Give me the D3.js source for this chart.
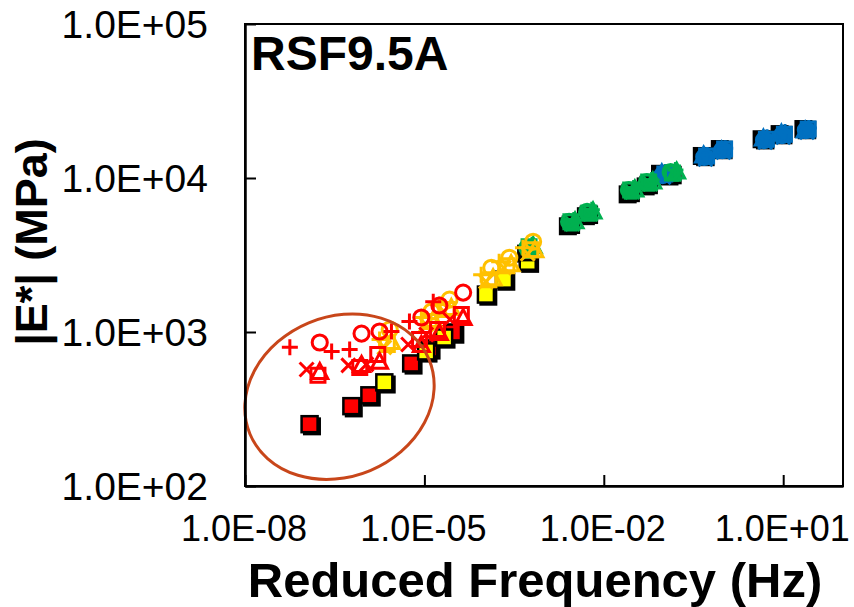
<!DOCTYPE html>
<html lang="en">
<head>
    <meta charset="UTF-8">
    <title>RSF9.5A</title>
    <script src="https://d3js.org/d3.v7.min.js"></script>
    <style>
        body { margin: 0; background: #fff; }
        text { font-family: Arial, "Liberation Sans", sans-serif; fill: #000; }
    </style>
</head>
<body>
<div id="chart"></div>
<script>
    // test frequencies (Hz), one group per temperature
    const freqs = [0.1, 0.5, 1, 5, 10, 25];
    const lineColors = ["#FF0000", "#FFC000", "#00B050", "#0070C0"];
    const fillColors = ["#FF0000", "#FFFF00", "#00B050", "#0070C0"];

    const xTicks = [1e-8, 1e-5, 1e-2, 1e1];
    const yTicks = [1e2, 1e3, 1e4, 1e5];

    // log10 shift factors per temperature group [red, orange, green, blue]
    const shiftFilled = [-5.92, -4.67, -2.25, 0];
    const shiftBlack = [-5.88, -4.63, -2.30, -0.06];
    const shiftPlus = [-6.25, -4.75, -2.20, 0.03];
    const shiftCircle = [-5.75, -4.58, -2.28, -0.02];
    const shiftCross = [-5.97, -4.67, -2.22, 0.0];
    const shiftSquare = [-5.78, -4.62, -2.25, 0.02];
    const shiftTriangle = [-5.75, -4.55, -2.18, -0.03];

    // |E*| in MPa, rows = temperature group, cols = freqs
    const filledE = [
        [252, 330, 388, 625, 782, 993],
        [471, 748, 921, 1750, 2188, 2860],
        [3300, 4970, 5770, 8000, 9010, 10450],
        [10500, 13700, 15200, 17600, 19000, 20500]];
    const blackE = [
        [244, 319, 375, 605, 757, 960],
        [456, 724, 892, 1695, 2120, 2770],
        [3230, 4860, 5650, 7830, 8820, 10230],
        [10650, 13900, 15420, 17850, 19280, 20800]];
    const plusE = [
        [795, 748, 771, 1007, 1170, 1574],
        [894, 1241, 1507, 2356, 2860, 3524],
        [3685, 5340, 6210, 8610, 9710, 11270],
        [10940, 14090, 15630, 18420, 19870, 21080]];
    const circleE = [
        [855, 977, 1007, 1242, 1486, 1803],
        [1038, 1358, 1623, 2615, 3035, 3853],
        [3524, 5190, 6020, 8360, 9420, 10940],
        [10450, 13680, 15180, 17620, 18990, 20470]];
    const crossE = [
        [571, 607, 616, 830, 963, 1205],
        [794, 1119, 1358, 2123, 2615, 3222],
        [3420, 5040, 5840, 8110, 9140, 10620],
        [10140, 13270, 14730, 17100, 18420, 19870]];
    const squareE = [
        [523, 589, 714, 893, 1038, 1297],
        [830, 1169, 1399, 2187, 2694, 3420],
        [3575, 5190, 5930, 8360, 9420, 10770],
        [10620, 13880, 15400, 17880, 19270, 20770]];
    const triangleE = [
        [555, 616, 645, 830, 993, 1242],
        [868, 1205, 1442, 2254, 2776, 3420],
        [3630, 5270, 6110, 8490, 9570, 11090],
        [10770, 14090, 15180, 18160, 19560, 20470]];

    // ellipse around the high temperature points (data coords of centre)
    const ellipseCentre = [10 ** -6.42, 10 ** 2.58];

    const width = 854, height = 607;
    const margin = {left: 245, right: 11, top: 24, bottom: 121};

    const svg = d3.select("#chart").append("svg")
        .attr("width", width)
        .attr("height", height);

    const x = d3.scaleLog().domain([1e-8, 1e2]).range([margin.left, width - margin.right]);
    const y = d3.scaleLog().domain([1e2, 1e5]).range([height - margin.bottom, margin.top]);

    function points(shift, E) {
        let out = [];
        E.forEach(function (row, t) {
            row.forEach(function (v, i) {
                out.push({fr: freqs[i] * 10 ** shift[t], E: v, t: t});
            });
        });
        return out;
    }

    const plot = svg.append("g");

    // black squares behind
    plot.selectAll(".blk")
        .data(points(shiftBlack, blackE))
        .join("rect")
        .attr("x", d => x(d.fr) - 9)
        .attr("y", d => y(d.E) - 9)
        .attr("width", 18).attr("height", 18)
        .attr("fill", "#000");

    // coloured filled squares
    plot.selectAll(".fill")
        .data(points(shiftFilled, filledE))
        .join("rect")
        .attr("x", d => x(d.fr) - 8)
        .attr("y", d => y(d.E) - 8)
        .attr("width", 16).attr("height", 16)
        .attr("fill", d => fillColors[d.t])
        .attr("stroke", "#000")
        .attr("stroke-width", 2.5);

    const s = 8;
    const shapes = {
        plus: `M${-s},0H${s}M0,${-s}V${s}`,
        cross: `M${-s + 1},${-s + 1}L${s - 1},${s - 1}M${-s + 1},${s - 1}L${s - 1},${-s + 1}`,
        circle: d3.symbol(d3.symbolCircle, 180)(),
        square: `M${-s + 1},${-s + 1}H${s - 1}V${s - 1}H${-s + 1}Z`,
        triangle: `M0,${-s}L${s},${s - 1}H${-s}Z`
    };

    const hollow = [
        {shape: "square", shift: shiftSquare, E: squareE},
        {shape: "triangle", shift: shiftTriangle, E: triangleE},
        {shape: "cross", shift: shiftCross, E: crossE},
        {shape: "plus", shift: shiftPlus, E: plusE},
        {shape: "circle", shift: shiftCircle, E: circleE}
    ];

    // draw hollow markers, blue group first, red group last (on top)
    [3, 2, 1, 0].forEach(function (t) {
        hollow.forEach(function (h) {
            const pts = points(h.shift, h.E).filter(d => d.t === t);
            plot.append("g").selectAll("path")
                .data(pts)
                .join("path")
                .attr("transform", d => `translate(${x(d.fr)},${y(d.E)})`)
                .attr("d", shapes[h.shape])
                .attr("fill", "none")
                .attr("stroke", lineColors[t])
                .attr("stroke-width", 3);
        });
    });

    // ellipse annotation
    svg.append("ellipse")
        .attr("transform", `translate(${x(ellipseCentre[0])},${y(ellipseCentre[1])}) rotate(-22.6)`)
        .attr("rx", 97).attr("ry", 80)
        .attr("fill", "none")
        .attr("stroke", "#C8461A")
        .attr("stroke-width", 3);

    // frame
    svg.append("rect")
        .attr("x", margin.left).attr("y", margin.top)
        .attr("width", width - margin.right - margin.left)
        .attr("height", height - margin.bottom - margin.top)
        .attr("fill", "none")
        .attr("stroke", "#000")
        .attr("stroke-width", 2);

    // axes with inside ticks
    const xAxis = svg.append("g")
        .attr("transform", `translate(0,${height - margin.bottom})`)
        .call(d3.axisBottom(x).tickValues(xTicks).tickSizeInner(-11).tickSizeOuter(0).tickFormat(""));
    xAxis.select(".domain").attr("stroke-width", 2.5);
    xAxis.selectAll(".tick line").attr("stroke-width", 2);

    const yAxis = svg.append("g")
        .attr("transform", `translate(${margin.left},0)`)
        .call(d3.axisLeft(y).tickValues(yTicks).tickSizeInner(-11).tickSizeOuter(0).tickFormat(""));
    yAxis.select(".domain").attr("stroke-width", 2.5);
    yAxis.selectAll(".tick line").attr("stroke-width", 2);

    const fmt = v => {
        const e = Math.round(Math.log10(v));
        return "1.0E" + (e < 0 ? "-" : "+") + String(Math.abs(e)).padStart(2, "0");
    };

    svg.append("g").selectAll("text")
        .data(xTicks)
        .join("text")
        .attr("x", d => x(d) - 1)
        .attr("y", 541)
        .attr("text-anchor", "middle")
        .style("font-size", "36px")
        .text(fmt);

    svg.append("g").selectAll("text")
        .data(yTicks)
        .join("text")
        .attr("x", 208)
        .attr("y", d => y(d))
        .attr("dy", "0.36em")
        .attr("text-anchor", "end")
        .style("font-size", "39px")
        .text(fmt);

    svg.append("text")
        .attr("x", 251).attr("y", 70)
        .style("font-size", "48px")
        .style("font-weight", "bold")
        .text("RSF9.5A");

    svg.append("text")
        .attr("x", 535).attr("y", 597)
        .attr("text-anchor", "middle")
        .style("font-size", "49px")
        .style("font-weight", "bold")
        .text("Reduced Frequency (Hz)");

    svg.append("text")
        .attr("transform", "translate(47,242) rotate(-90)")
        .attr("text-anchor", "middle")
        .style("font-size", "45px")
        .style("font-weight", "bold")
        .text("|E*| (MPa)");
</script>
</body>
</html>
